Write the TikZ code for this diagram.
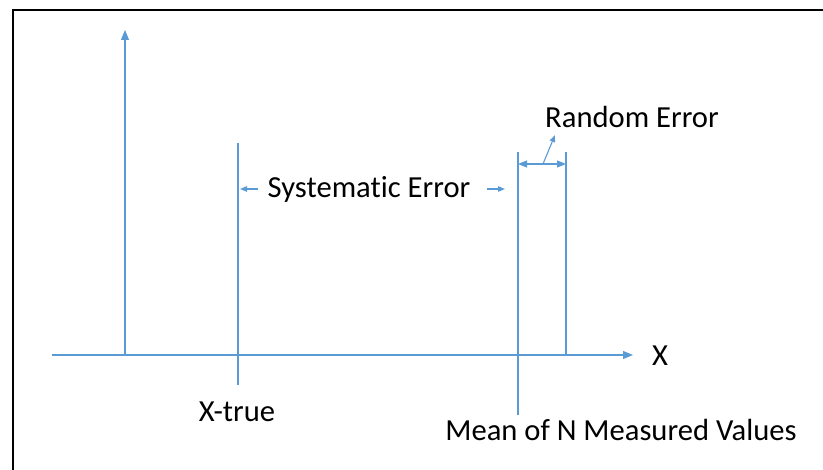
\documentclass[tikz,border=0pt]{standalone}
\usepackage{fontspec}
\setmainfont[RawFeature={-liga;-clig;-dlig}]{Carlito}
\usetikzlibrary{arrows.meta}
\definecolor{lineblue}{HTML}{5B9BD5}
\begin{document}
\begin{tikzpicture}[x=1pt,y=-1pt,
  ln/.style={lineblue,line width=1.1pt},
  bigtip/.style={ln,-{Triangle[length=10pt,width=8pt]}},
  midtip/.style={ln,{Triangle[length=9pt,width=7pt]}-{Triangle[length=9pt,width=7pt]}},
  smalltip/.style={ln,-{Triangle[length=7pt,width=5.5pt]}},
  lbl/.style={font=\fontsize{30.6}{34}\selectfont,inner sep=0pt,anchor=base}]
\useasboundingbox (0,0) rectangle (823,470);
% frame
\draw[black,line width=2pt] (13,471) -- (13,10) -- (824,10);
% coordinates
\coordinate (yb) at (125,355);
\coordinate (yt) at (125,30);
\coordinate (xl) at (52,355);
\coordinate (xr) at (633,355);
\coordinate (tt) at (238,143);
\coordinate (tb) at (238,385);
\coordinate (mt) at (518,152);
\coordinate (mb) at (518,415);
\coordinate (rt) at (566,152);
\coordinate (rb) at (566,355);
\coordinate (ra) at (518,164);
\coordinate (rz) at (566,164);
\coordinate (rm) at (543,164);
\coordinate (rp) at (555,135);
\coordinate (sl1) at (258,189);
\coordinate (sl2) at (240,189);
\coordinate (sr1) at (487,189);
\coordinate (sr2) at (505,189);
% axes
\draw[bigtip] (yb) -- (yt);
\draw[bigtip] (xl) -- (xr);
% vertical lines
\draw[ln] (tt) -- (tb);
\draw[ln] (mt) -- (mb);
\draw[ln] (rt) -- (rb);
% random error
\draw[midtip] (ra) -- (rz);
\draw[smalltip] (rm) -- (rp);
% systematic arrows
\draw[smalltip] (sl1) -- (sl2);
\draw[smalltip] (sr1) -- (sr2);
% labels
\node[lbl] (xlab) at (660,366) {X};
\node[lbl] (sys) at (369,198) {Systematic Error};
\node[lbl] (rnd) at (632,128) {Random Error};
\node[lbl] (xtrue) at (237,422) {X-true};
\node[lbl] (mean) at (621,441) {Mean of N Measured Values};
\end{tikzpicture}
\end{document}
